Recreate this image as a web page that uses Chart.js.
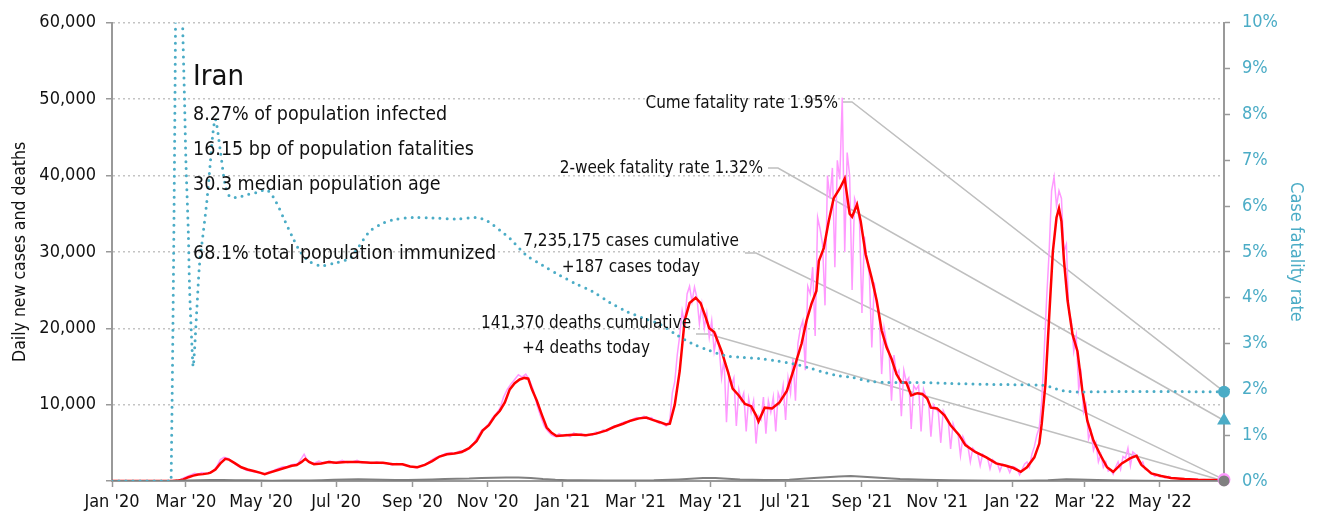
<!DOCTYPE html>
<html lang="en">
<head>
<meta charset="UTF-8">
<title>Iran - daily cases, deaths and fatality rate</title>
<script src="https://cdn.jsdelivr.net/npm/chart.js@4.4.0/dist/chart.umd.min.js"></script>
<style>
  html, body { margin: 0; padding: 0; background: #fff; }
  #wrap { width: 1320px; height: 523px; }
</style>
</head>
<body>
<div id="wrap"><canvas id="covidChart" width="1320" height="523"></canvas></div>
<script>
// every x value is a day count from 1 Jan 2020
const tickDates = ['2020-01-01', '2020-03-01', '2020-05-01', '2020-07-01', '2020-09-01', '2020-11-01',
  '2021-01-01', '2021-03-01', '2021-05-01', '2021-07-01', '2021-09-01', '2021-11-01',
  '2022-01-01', '2022-03-01', '2022-05-01'];
const tickLabels = ["Jan '20", "Mar '20", "May '20", "Jul '20", "Sep '20", "Nov '20",
  "Jan '21", "Mar '21", "May '21", "Jul '21", "Sep '21", "Nov '21",
  "Jan '22", "Mar '22", "May '22"];
const lastDay = 903;

// [day, new cases reported]
const dailyCases = [
  [0,0],[49,0],[52,30],[55,100],[58,400],[61,600],[64,800],[67,1000],[70,900],[73,1100],[76,1000],
  [79,1100],[82,1300],[85,1900],[88,2800],[91,3100],[94,3000],[97,2600],[100,2200],[103,1900],[106,1700],
  [109,1400],[112,1300],[115,1200],[118,1100],[121,1000],[124,900],[127,1200],[130,1300],[133,1500],
  [136,1700],[139,1900],[142,1800],[145,2100],[148,2200],[151,2300],[154,3000],[156,3500],[159,2600],
  [162,2300],[165,2400],[168,2600],[171,2400],[174,2500],[177,2600],[180,2300],[183,2500],[187,2700],
  [191,2400],[195,2500],[199,2700],[203,2400],[207,2500],[211,2300],[215,2500],[219,2300],[223,2400],
  [227,2100],[231,2300],[235,2200],[239,2000],[243,1900],[247,1700],[251,2000],[255,2200],[259,2700],
  [263,3100],[267,3300],[271,3600],[275,3700],[279,3600],[283,4000],[287,3900],[291,4500],[294,5000],
  [297,5800],[300,6600],[303,7000],[306,7500],[309,8300],[312,8800],[315,9500],[318,11000],[321,12000],
  [324,12700],[327,13300],[330,13900],[333,13600],[336,14000],[339,13200],[342,12000],[345,10000],
  [348,8500],[351,7200],[354,6500],[357,6000],[360,5800],[363,6200],[366,5900],[369,6100],[372,5800],
  [375,6300],[378,6000],[381,6200],[384,5900],[387,6100],[390,6000],[393,6400],[396,6300],[399,6700],
  [402,6500],[405,7000],[408,7200],[411,7300],[414,7600],[417,7800],[420,7700],[423,8100],[426,8300],
  [429,8200],[432,8500],[435,8100],[438,8300],[441,7900],[444,7600],[447,7500],[450,7200],[453,8000],
  [455,11500],[457,13000],[459,16500],[461,19000],[463,22300],[465,20500],[467,24500],[469,25500],
  [471,23500],[473,25400],[475,24000],[477,20600],[479,23100],[481,20000],[483,22000],[485,18800],
  [487,21000],[489,17000],[491,19000],[493,17500],[495,13500],[497,16000],[499,7700],[501,14000],
  [503,12500],[505,13500],[507,7200],[509,12000],[511,10500],[513,11500],[515,6500],[517,10800],
  [519,9000],[521,10500],[523,4900],[525,8500],[527,8000],[529,11000],[531,6200],[533,10500],[535,9000],
  [537,11000],[539,6500],[541,11500],[543,10500],[545,12500],[547,8000],[549,13500],[551,11500],
  [553,16000],[555,10500],[557,18000],[559,20000],[561,21000],[563,14500],[565,25500],[567,24500],
  [569,28000],[571,19000],[573,34500],[575,33000],[577,31000],[579,23000],[581,40000],[583,37000],
  [585,41000],[587,28000],[589,42000],[591,39500],[593,50200],[595,30000],[597,43000],[599,40000],
  [601,25000],[603,37000],[605,36000],[607,34000],[609,22000],[611,32000],[613,29000],[615,27000],
  [617,17500],[619,26000],[621,23000],[623,22000],[625,14000],[627,20000],[629,18000],[631,17000],
  [633,10500],[635,16500],[637,14000],[639,14500],[641,8500],[643,14500],[645,13000],[647,13500],
  [649,6800],[651,12500],[653,12000],[655,12500],[657,6500],[659,12000],[661,11000],[663,10500],
  [665,5800],[667,10000],[669,9500],[671,9000],[673,5000],[675,9200],[677,8500],[679,8000],[681,4200],
  [683,7500],[685,6500],[687,6200],[689,3300],[691,5800],[693,5000],[695,4600],[697,2500],[699,4300],
  [701,3900],[703,3600],[705,2000],[707,3500],[709,3200],[711,3000],[713,1600],[715,2800],[717,2500],
  [719,2300],[721,1300],[723,2200],[725,2100],[727,1900],[729,1100],[731,1900],[733,1800],[735,1600],
  [737,800],[739,1500],[741,2200],[743,2500],[745,1800],[747,3500],[749,4500],[751,6000],[753,7000],
  [755,10500],[757,17000],[759,24000],[761,30000],[763,38000],[765,39800],[767,36000],[769,38000],
  [771,37000],[773,30000],[775,31000],[777,22000],[779,21000],[781,17000],[783,19000],[785,12000],
  [787,14000],[789,9000],[791,10000],[793,5500],[795,6500],[797,4000],[799,5000],[801,2500],[803,3500],
  [805,1800],[807,2500],[809,1300],[811,1500],[813,900],[815,1800],[817,2500],[819,1500],[821,3200],
  [823,3000],[825,4300],[827,2000],[829,3800],[831,3500],[833,2800],[835,2200],[837,2500],[839,1500],
  [841,1500],[843,1100],[845,900],[847,600],[849,800],[851,550],[853,700],[855,400],[858,600],[861,350],
  [864,400],[867,250],[871,300],[875,200],[879,250],[883,150],[887,200],[891,120],[895,150],[899,100],
  [903,187]
];

// [day, 7-day average of new cases]
const avgCases = [
  [0,0],[49,0],[53,50],[58,200],[62,500],[66,700],[70,850],[74,900],[78,1000],[80,1100],[84,1500],
  [88,2300],[92,2900],[95,2800],[100,2300],[105,1800],[110,1500],[115,1300],[120,1100],[124,900],
  [128,1100],[134,1400],[140,1700],[146,2000],[150,2100],[154,2500],[157,2900],[160,2500],[164,2200],
  [170,2300],[176,2500],[182,2400],[190,2500],[200,2500],[210,2400],[220,2400],[228,2200],[236,2200],
  [242,1900],[248,1800],[254,2100],[260,2600],[266,3200],[272,3500],[278,3600],[284,3800],[290,4300],
  [296,5200],[301,6600],[306,7300],[311,8500],[315,9200],[319,10300],[323,12000],[327,12800],
  [331,13300],[335,13500],[338,13400],[341,12000],[345,10500],[349,8700],[353,7000],[357,6300],
  [361,5900],[369,6000],[377,6100],[385,6000],[393,6200],[401,6600],[408,7100],[415,7500],[421,7900],
  [428,8200],[434,8300],[439,8000],[445,7700],[450,7400],[453,7500],[457,10000],[461,14400],
  [465,21000],[469,23300],[474,24000],[478,23300],[482,21500],[485,20000],[489,19500],[495,17000],
  [500,14400],[504,12100],[509,11200],[514,10100],[519,9800],[523,8600],[525,7800],[530,9600],
  [536,9500],[542,10300],[548,11800],[554,14800],[560,18000],[564,21000],[568,23200],[572,24900],
  [574,28800],[578,30500],[582,34000],[586,37000],[591,38300],[595,39600],[599,35000],[601,34600],
  [605,36200],[608,34000],[612,29700],[617,26500],[621,23600],[625,19700],[629,17500],[633,16000],
  [637,14000],[641,12900],[645,12900],[649,11200],[654,11500],[658,11400],[662,10800],[665,9600],
  [670,9500],[676,8600],[681,7300],[688,6000],[693,4700],[701,3800],[710,3100],[718,2300],[726,2000],
  [732,1700],[738,1200],[743,1800],[749,3100],[753,4900],[755,7500],[758,12700],[761,21400],
  [764,30000],[767,34500],[769,35700],[771,34000],[773,29000],[776,23600],[780,19200],[784,17000],
  [788,11800],[792,7900],[797,5300],[802,3600],[808,1800],[813,1200],[820,2300],[827,3000],[832,3300],
  [836,2100],[844,1000],[852,650],[860,400],[871,250],[882,150],[903,100]
];

// [day, new deaths reported]
const dailyDeaths = [
  [0,0],[49,2],[60,60],[70,100],[80,140],[90,140],[100,110],[110,90],[120,70],[130,45],[140,50],
  [150,60],[160,80],[170,110],[180,150],[190,200],[200,220],[210,200],[220,170],[230,130],[240,120],
  [250,150],[260,200],[270,250],[280,300],[290,330],[300,400],[310,430],[320,470],[330,450],[340,400],
  [350,250],[360,150],[370,100],[380,90],[400,80],[420,80],[440,90],[460,200],[480,380],[490,400],
  [500,300],[510,200],[520,150],[530,130],[550,180],[570,400],[590,600],[600,650],[610,550],[620,450],
  [640,250],[660,150],[680,100],[700,60],[720,40],[740,25],[760,100],[775,230],[785,200],[800,120],
  [820,60],[840,20],[860,10],[880,5],[903,4]
];

// [day, cumulative case fatality rate %]
const fatalityRate = [
  [0,0],[48,0],[49,100],[52,40],[56,14],[57,10.5],[59,8.2],[60,7],[62,5.4],[63,4.2],[65,2.9],[66,2.5],
  [69,3.8],[71,4.7],[74,5.4],[77,6.1],[80,7.0],[82,7.6],[84,7.9],[88,7.2],[92,6.45],[96,6.2],[103,6.2],
  [110,6.25],[118,6.3],[126,6.35],[133,6.1],[140,5.7],[147,5.3],[153,5.0],[160,4.8],[169,4.7],
  [180,4.75],[193,4.86],[200,5.1],[209,5.44],[218,5.6],[228,5.7],[245,5.75],[260,5.74],[280,5.72],
  [296,5.75],[303,5.7],[309,5.6],[316,5.45],[323,5.3],[336,4.94],[350,4.7],[363,4.5],[377,4.3],
  [390,4.14],[404,3.9],[418,3.7],[432,3.55],[445,3.42],[458,3.2],[471,3.0],[485,2.85],[499,2.73],
  [512,2.7],[526,2.67],[540,2.62],[553,2.56],[566,2.47],[580,2.36],[590,2.3],[601,2.26],[615,2.18],
  [630,2.15],[655,2.15],[680,2.13],[710,2.11],[740,2.1],[755,2.09],[763,2.05],[768,2.0],[775,1.96],
  [785,1.94],[800,1.95],[903,1.95]
];

const cumeRate = 1.95;
const twoWeekRate = 1.32;
const casesToday = 187;
const deathsToday = 4;
const infoLines = ['8.27% of population infected', '16.15 bp of population fatalities',
  '30.3 median population age', '', '68.1% total population immunized'];

const TEAL = '#4BACC6';
const FONT = "'DejaVu Sans Condensed', 'Liberation Sans Narrow', sans-serif";
const dayOf = s => Math.round((Date.parse(s) - Date.parse('2020-01-01')) / 86400000);
const tickDays = tickDates.map(dayOf);
const pts = arr => arr.map(p => ({ x: p[0], y: p[1] }));

Chart.defaults.font.family = FONT;
Chart.defaults.color = '#222';

// text block, callouts and their leader lines
const notesPlugin = {
  id: 'notes',
  beforeDatasetsDraw(chart) {
    const { ctx, scales: { x, y, y1 } } = chart;
    const ex = x.getPixelForValue(lastDay);
    const leaders = [
      [842, 852, 102, y1.getPixelForValue(cumeRate)],
      [768, 778, 168, y1.getPixelForValue(twoWeekRate)],
      [745, 756, 253, y.getPixelForValue(casesToday)],
      [696, 708, 334, y.getPixelForValue(deathsToday)]
    ];
    ctx.save();
    ctx.strokeStyle = '#bfbfbf';
    ctx.lineWidth = 1.5;
    leaders.forEach(([x0, x1, y0, yEnd]) => {
      ctx.beginPath();
      ctx.moveTo(x0, y0);
      ctx.lineTo(x1, y0);
      ctx.lineTo(ex, yEnd);
      ctx.stroke();
    });
    ctx.restore();
  },
  afterDraw(chart) {
    const { ctx } = chart;
    ctx.save();
    ctx.fillStyle = '#111';
    ctx.textBaseline = 'alphabetic';
    ctx.textAlign = 'left';
    ctx.font = '29px ' + FONT;
    ctx.fillText('Iran', 193, 85);
    ctx.font = '19.5px ' + FONT;
    infoLines.forEach((t, i) => ctx.fillText(t, 193, 120 + i * 34.8));

    ctx.font = '17px ' + FONT;
    ctx.textBaseline = 'middle';
    ctx.textAlign = 'right';
    ctx.fillText('Cume fatality rate ' + cumeRate.toFixed(2) + '%', 838, 104);
    ctx.fillText('2-week fatality rate ' + twoWeekRate.toFixed(2) + '%', 763, 169);
    ctx.textAlign = 'center';
    ctx.fillText('7,235,175 cases cumulative', 631, 242);
    ctx.fillText('+' + casesToday + ' cases today', 631, 268);
    ctx.fillText('141,370 deaths cumulative', 586, 324);
    ctx.fillText('+' + deathsToday + ' deaths today', 586, 349);
    ctx.restore();
  }
};

new Chart(document.getElementById('covidChart'), {
  type: 'line',
  data: {
    datasets: [
      { label: 'Cases today', data: [{ x: lastDay, y: casesToday }], showLine: false, clip: false,
        pointRadius: 6.5, pointBackgroundColor: '#ff99ff', pointBorderWidth: 0, order: 2 },
      { label: 'Deaths today', data: [{ x: lastDay, y: deathsToday }], showLine: false, clip: false,
        pointRadius: 5.5, pointBackgroundColor: '#808080', pointBorderWidth: 0, order: 1 },
      { label: 'Cume fatality rate', data: [{ x: lastDay, y: cumeRate }], yAxisID: 'y1', showLine: false,
        clip: false, pointRadius: 6, pointBackgroundColor: TEAL, pointBorderWidth: 0, order: 0 },
      { label: '2-week fatality rate', data: [{ x: lastDay, y: twoWeekRate }], yAxisID: 'y1', showLine: false,
        clip: false, pointStyle: 'triangle', pointRadius: 8, pointBackgroundColor: TEAL, pointBorderWidth: 0,
        order: 0 },
      { label: 'Case fatality rate', data: pts(fatalityRate), yAxisID: 'y1', borderColor: TEAL,
        borderWidth: 3, borderDash: [0, 7], borderCapStyle: 'round', pointRadius: 0, tension: 0.3, order: 3 },
      { label: 'Deaths', data: pts(dailyDeaths), borderColor: '#808080', borderWidth: 2, pointRadius: 0, order: 4 },
      { label: '7-day average', data: pts(avgCases), borderColor: '#ff0000', borderWidth: 2.5,
        pointRadius: 0, order: 5 },
      { label: 'Daily cases', data: pts(dailyCases), borderColor: '#ff99ff', borderWidth: 1.5,
        pointRadius: 0, order: 6 }
    ]
  },
  options: {
    responsive: false,
    animation: false,
    devicePixelRatio: 1,
    layout: { padding: { top: 20, left: 0, right: 0, bottom: 0 } },
    plugins: { legend: { display: false }, tooltip: { enabled: false } },
    scales: {
      x: {
        type: 'linear', min: 0, max: lastDay,
        afterBuildTicks: s => { s.ticks = tickDays.map(v => ({ value: v })); },
        afterFit: s => { s.height = 42; },
        ticks: { autoSkip: false, maxRotation: 0, padding: 5, font: { size: 18 }, color: '#111',
          callback: (v, i) => tickLabels[i] },
        grid: { drawOnChartArea: false, tickLength: 6, tickColor: '#999', tickWidth: 1.5 },
        border: { color: '#999', width: 2 }
      },
      y: {
        position: 'left', min: 0, max: 60000,
        afterFit: s => { s.width = 112; },
        ticks: { stepSize: 10000, padding: 10, font: { size: 18 }, color: '#111',
          callback: v => v === 0 ? '' : v.toLocaleString('en-US') },
        grid: { color: '#c4c4c4', lineWidth: 1.5, tickLength: 6, tickColor: '#999', tickWidth: 1.5 },
        border: { color: '#999', width: 2, dash: [2, 3] },
        title: { display: true, text: 'Daily new cases and deaths', font: { size: 17.5 }, color: '#111',
          padding: { top: 10, bottom: 0 } }
      },
      y1: {
        position: 'right', min: 0, max: 10,
        afterFit: s => { s.width = 96; },
        ticks: { stepSize: 1, padding: 12, font: { size: 18 }, color: TEAL, callback: v => v + '%' },
        grid: { drawOnChartArea: false, tickLength: 6, tickColor: '#999', tickWidth: 1.5 },
        border: { color: '#999', width: 2 },
        title: { display: true, text: 'Case fatality rate', font: { size: 18 }, color: TEAL,
          padding: { top: 14, bottom: 0 } }
      }
    }
  },
  plugins: [notesPlugin]
});
</script>
</body>
</html>
